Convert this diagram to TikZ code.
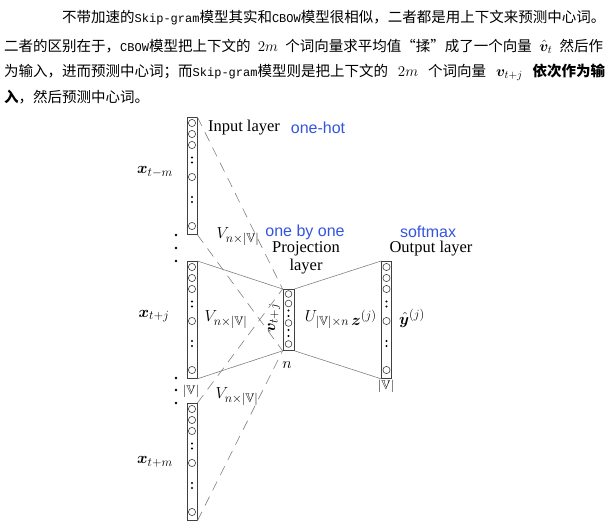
\documentclass[tikz,border=0pt]{standalone}
\usepackage{fix-cm}
\usepackage{amssymb}
\usepackage{bm}
\usepackage[no-math]{fontspec}
\setmainfont{Liberation Serif}
\newfontfamily\cjk{Noto Sans CJK SC}
\newfontfamily\mono{Liberation Mono}
\newfontfamily\hel{Liberation Sans}
\DeclareMathSizes{16}{16}{12.5}{10}
\DeclareMathSizes{14.5}{15}{11}{8}
\usepackage{xcolor}
\definecolor{hintblue}{RGB}{51,85,221}
\usepackage{tikz}
\usetikzlibrary{calc}
\newcommand{\lat}[1]{{\mono\fontsize{12}{14}\selectfont #1}}

\begin{document}
\begin{tikzpicture}[x=1pt, y=-1pt,
  colbox/.style={draw=black!75, line width=0.8pt, minimum width=10pt, inner sep=0pt},
  neuron/.style={draw=black!75, line width=0.6pt},
  solidlink/.style={draw=black!50, line width=0.6pt},
  dashlink/.style={draw=black!50, line width=0.6pt, dash pattern=on 10pt off 7pt},
  layertext/.style={inner sep=0pt, font=\fontsize{16.5}{18}\selectfont},
  hint/.style={inner sep=0pt, text=hintblue, font=\hel\fontsize{16}{18}\selectfont},
  mathlabel/.style={inner sep=0pt, font=\fontsize{16}{18}\selectfont},
  sizelabel/.style={inner sep=0pt, font=\fontsize{12.5}{14}\selectfont},
  para/.style={anchor=west, inner sep=0pt, font=\cjk\fontsize{14.5}{16}\selectfont}]
  \useasboundingbox (0,0) rectangle (609,529);
  % paragraph above the picture
  \node[para] (line1) at (62,18) {不带加速的\lat{Skip-gram}模型其实和\lat{CBOW}模型很相似，二者都是用上下文来预测中心词。};
  \node[para] (line2) at (4,46) {\makebox[599pt][s]{二者的区别在于，\lat{CBOW}模型把上下文的 $2m$ 个词向量求平均值“揉”成了一个向量 $\hat{\bm v}_t$ 然后作}};
  \node[para] (line3) at (4,72) {\makebox[601pt][s]{为输入，进而预测中心词；而\lat{Skip-gram}模型则是把上下文的 $2m$ 个词向量 $\bm v_{t+j}$ {\bfseries 依次作为输}}};
  \node[para] (line4) at (4,97) {{\bfseries 入}，然后预测中心词。};
  % columns of units
  \foreach \nm/\cx/\ty in {ctxtop/192/117, ctxmid/192/261, ctxbot/192/403, outcol/386.5/261} {
    \node[colbox, minimum height=117pt, anchor=north] (\nm) at (\cx,\ty) {};
    \foreach \off in {6,17,28,60,109} \draw[neuron] (\cx,\ty+\off) circle (3.6pt);
    \foreach \off in {40.5,45.5,80,85} \fill (\cx,\ty+\off) circle (1.2pt);
  }
  \node[colbox, minimum width=11pt, minimum height=61pt, anchor=north] (proj) at (288.5,289) {};
  \foreach \off in {5,14.5,34,55} \draw[neuron] (288.5,289+\off) circle (3.4pt);
  \foreach \off in {21.5,27,41,47} \fill (288.5,289+\off) circle (1.2pt);
  \foreach \y in {235,248,261,378,390,403} \fill (176,\y) circle (1.3pt);
  % links
  \draw[solidlink] (ctxmid.north east) -- (proj.north west);
  \draw[solidlink] (ctxmid.south east) -- (proj.south west);
  \draw[solidlink] (proj.north east) -- (outcol.north west);
  \draw[solidlink] (proj.south east) -- (outcol.south west);
  \draw[dashlink] (ctxtop.north east) -- (proj.north west);
  \draw[dashlink] (ctxtop.south east) -- (proj.south west);
  \draw[dashlink] (ctxbot.north east) -- (proj.north west);
  \draw[dashlink] (ctxbot.south east) -- (proj.south west);
  % labels
  \node[layertext] (inlabel) at (244,128) {Input layer};
  \node[hint] (onehot) at (318,128) {one-hot};
  \node[hint] (onebyone) at (305,232) {one by one};
  \node[hint] (smax) at (428,232) {softmax};
  \node[layertext, align=center] (projlabel) at (306,258) {Projection\\layer};
  \node[layertext] (outlabel) at (431,249) {Output layer};
  \node[mathlabel] (xtm) at (155,172) {$\bm x_{t-m}$};
  \node[mathlabel] (xtj) at (154,316) {$\bm x_{t+j}$};
  \node[mathlabel] (xtp) at (155,462) {$\bm x_{t+m}$};
  \node[mathlabel] (vtop) at (238,237) {$V_{n\times|\mathbb V|}$};
  \node[mathlabel] (vmid) at (226,320) {$V_{n\times|\mathbb V|}$};
  \node[mathlabel] (vbot) at (237,397) {$V_{n\times|\mathbb V|}$};
  \node[mathlabel, rotate=90] (vtj) at (274,318) {$\bm v_{t+j}$};
  \node[mathlabel] (ulabel) at (327,320) {$U_{|\mathbb V|\times n}$};
  \node[mathlabel] (zj) at (364,318) {$\bm z^{(j)}$};
  \node[mathlabel] (yj) at (412,318) {$\hat{\bm y}^{(j)}$};
  \node[mathlabel] (nlabel) at (287,365) {$n$};
  \node[sizelabel] (vout) at (386,386) {$|\mathbb V|$};
  \node[sizelabel] (vsize) at (191,391) {$|\mathbb V|$};
\end{tikzpicture}
\end{document}
